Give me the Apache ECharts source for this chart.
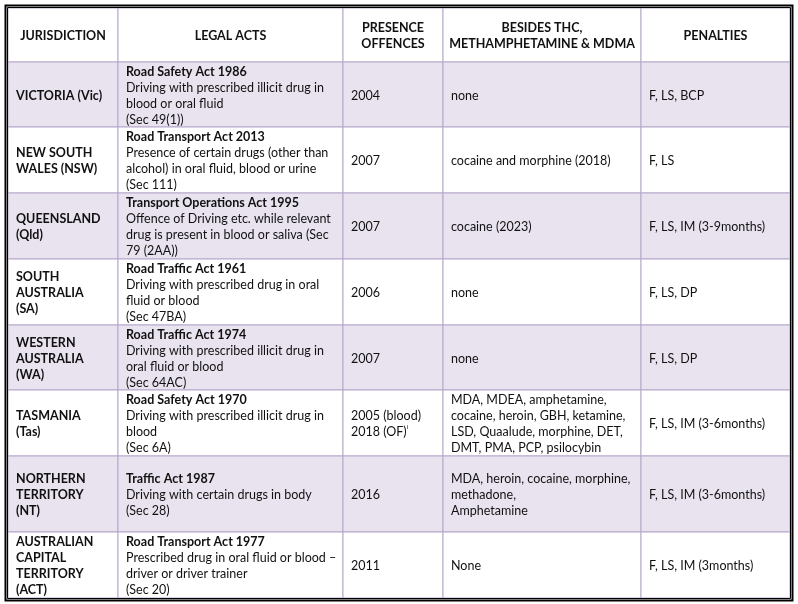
<!DOCTYPE html>
<html>
<head>
<meta charset="utf-8">
<script src="https://cdn.jsdelivr.net/npm/echarts@6/dist/echarts.min.js"></script>
<style>
  html, body { margin: 0; padding: 0; background: #fff; }
  #table { width: 798px; height: 604px; }
</style>
</head>
<body>
<div id="table"></div>
<script>
// table content
const headers = ['JURISDICTION', 'LEGAL ACTS', 'PRESENCE\nOFFENCES', 'BESIDES THC,\nMETHAMPHETAMINE & MDMA', 'PENALTIES']
const jurisdictions = [
  'VICTORIA (Vic)',
  'NEW SOUTH\nWALES (NSW)',
  'QUEENSLAND\n(Qld)',
  'SOUTH\nAUSTRALIA\n(SA)',
  'WESTERN\nAUSTRALIA\n(WA)',
  'TASMANIA\n(Tas)',
  'NORTHERN\nTERRITORY\n(NT)',
  'AUSTRALIAN\nCAPITAL\nTERRITORY\n(ACT)'
]
const actTitles = [
  'Road Safety Act 1986',
  'Road Transport Act 2013',
  'Transport Operations Act 1995',
  'Road Traffic Act 1961',
  'Road Traffic Act 1974',
  'Road Safety Act 1970',
  'Traffic Act 1987',
  'Road Transport Act 1977'
]
const actTexts = [
  'Driving with prescribed illicit drug in\nblood or oral fluid\n(Sec 49(1))',
  'Presence of certain drugs (other than\nalcohol) in oral fluid, blood or urine\n(Sec 111)',
  'Offence of Driving etc. while relevant\ndrug is present in blood or saliva (Sec\n79 (2AA))',
  'Driving with prescribed drug in oral\nfluid or blood\n(Sec 47BA)',
  'Driving with prescribed illicit drug in\noral fluid or blood\n(Sec 64AC)',
  'Driving with prescribed illicit drug in\nblood\n(Sec 6A)',
  'Driving with certain drugs in body\n(Sec 28)',
  'Prescribed drug in oral fluid or blood \u2013\ndriver or driver trainer\n(Sec 20)'
]
const presenceYears = ['2004', '2007', '2007', '2006', '2007', '2005 (blood)\n2018 (OF){sup|i}', '2016', '2011']
const otherDrugs = [
  'none',
  'cocaine and morphine (2018)',
  'cocaine (2023)',
  'none',
  'none',
  'MDA, MDEA, amphetamine,\ncocaine, heroin, GBH, ketamine,\nLSD, Quaalude, morphine, DET,\nDMT, PMA, PCP, psilocybin',
  'MDA, heroin, cocaine, morphine,\nmethadone,\nAmphetamine',
  'None'
]
const penalties = ['F, LS, BCP', 'F, LS', 'F, LS, IM (3-9months)', 'F, LS, DP', 'F, LS, DP', 'F, LS, IM (3-6months)', 'F, LS, IM (3-6months)', 'F, LS, IM (3months)']

// layout of the grid (in table units)
const colEdges = [0, 110, 335, 435, 633, 782]
const rowEdges = [0, 54, 119, 185, 251, 317, 382, 448, 524, 590]

const chart = echarts.init(document.getElementById('table'))

function cellText(c, r) {
  if (r === 0) return headers[c]
  const i = r - 1
  if (c === 0) return '{b|' + jurisdictions[i].split('\n').join('}\n{b|') + '}'
  if (c === 1) return '{b|' + actTitles[i] + '}\n' + actTexts[i]
  if (c === 2) return presenceYears[i]
  if (c === 3) return otherDrugs[i]
  return penalties[i]
}

const cells = []
for (let r = 0; r < rowEdges.length - 1; r++) {
  for (let c = 0; c < colEdges.length - 1; c++) {
    cells.push([c, r])
  }
}

const font = 'Lato, "Noto Sans", sans-serif'
const ink = '#111111'

function renderCell(params, api) {
  const c = api.value(0)
  const r = api.value(1)
  const p0 = api.coord([colEdges[c], rowEdges[r]])
  const p1 = api.coord([colEdges[c + 1], rowEdges[r + 1]])
  const w = p1[0] - p0[0]
  const h = p1[1] - p0[1]
  const header = r === 0
  // odd data rows get the lavender fill
  const fill = (!header && r % 2 === 1) ? '#e9e3f0' : '#ffffff'
  return {
    type: 'group',
    children: [
      {
        type: 'rect',
        shape: { x: p0[0], y: p0[1], width: w, height: h },
        style: { fill: fill, stroke: '#b6a7ca', lineWidth: 1 }
      },
      {
        type: 'text',
        x: header ? p0[0] + w / 2 : p0[0] + 8,
        y: p0[1] + h / 2 + 1,
        style: {
          text: cellText(c, r),
          fill: ink,
          fontFamily: font,
          fontSize: 12.5,
          fontWeight: header ? 'bold' : 'normal',
          lineHeight: 16,
          align: header ? 'center' : 'left',
          verticalAlign: 'middle',
          rich: {
            b: { fontFamily: font, fontSize: 12.5, fontWeight: 'bold', lineHeight: 16, fill: ink },
            sup: { fontFamily: font, fontSize: 6, lineHeight: 16, verticalAlign: 'top', fill: ink }
          }
        }
      }
    ]
  }
}

function renderFrame(params, api) {
  const p0 = api.coord([0, 0])
  const p1 = api.coord([colEdges[colEdges.length - 1], rowEdges[rowEdges.length - 1]])
  return {
    type: 'group',
    children: [
      {
        type: 'rect',
        shape: { x: p0[0] - 0.5, y: p0[1] - 0.5, width: p1[0] - p0[0] + 1, height: p1[1] - p0[1] + 1 },
        style: { fill: null, stroke: '#000', lineWidth: 1 }
      },
      {
        type: 'rect',
        shape: { x: p0[0] - 2.5, y: p0[1] - 2.5, width: p1[0] - p0[0] + 5, height: p1[1] - p0[1] + 5 },
        style: { fill: null, stroke: '#000', lineWidth: 2 }
      }
    ]
  }
}

const option = {
  animation: false,
  grid: { left: 8, top: 8, width: 782, height: 590 },
  xAxis: { type: 'value', min: 0, max: 782, show: false },
  yAxis: { type: 'value', min: 0, max: 590, inverse: true, show: false },
  series: [
    {
      type: 'custom',
      renderItem: renderCell,
      data: cells,
      clip: false,
      silent: true
    },
    {
      type: 'custom',
      renderItem: renderFrame,
      data: [[0, 0]],
      clip: false,
      silent: true,
      z: 5
    }
  ]
}
chart.setOption(option)
</script>
</body>
</html>
